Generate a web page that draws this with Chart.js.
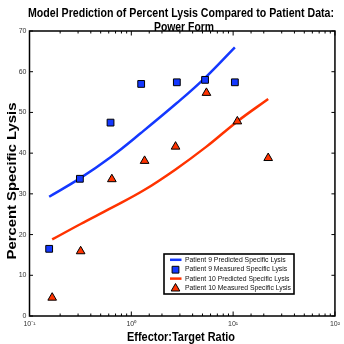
<!DOCTYPE html>
<html>
<head>
<meta charset="utf-8">
<script src="https://cdn.jsdelivr.net/npm/chart.js@4.4.0/dist/chart.umd.min.js"></script>
<style>
  html, body { margin: 0; padding: 0; background: #fff; }
</style>
</head>
<body>
<canvas id="lysisChart" width="344" height="344"></canvas>
<script>
// effector:target ratios
const ratio9 = [0.156, 0.3125, 0.625, 1.25, 2.8, 5.3, 10.4];
const measured9 = [16.5, 33.7, 47.5, 57.0, 57.4, 58.0, 57.4];
const predicted9 = [29.3, 33.8, 39.0, 45.0, 52.3, 58.5, 66.0];

const ratio10 = [0.167, 0.318, 0.644, 1.35, 2.72, 5.47, 11.0, 22.1];
const measured10 = [4.5, 15.9, 33.6, 38.1, 41.6, 54.8, 47.8, 38.8];
const predicted10 = [18.8, 22.6, 26.6, 31.0, 36.0, 41.6, 47.8, 53.3];

const seriesLabels = [
  "Patient 9 Predicted Specific Lysis",
  "Patient 9 Measured Specific Lysis",
  "Patient 10 Predicted Specific Lysis",
  "Patient 10 Measured Specific Lysis"
];
const xDecades = [0.1, 1, 10, 100];
const xDecadeLabels = ["10\u207B\u00B9", "10\u2070", "10\u00B9", "10\u00B2"];
const yTicks = [0, 10, 20, 30, 40, 50, 60, 70];

const blue = "#1438ff";
const red = "#ff3300";
const sans = '"Liberation Sans", Arial, sans-serif';

function pts(xs, ys) {
  return xs.map((x, i) => ({ x: x, y: ys[i] }));
}

// text squeezed to a given width (the original uses a narrow helvetica)
function fitText(ctx, text, x, y, width, font, rotate) {
  ctx.save();
  ctx.font = font;
  const w = ctx.measureText(text).width;
  ctx.translate(x, y);
  if (rotate) ctx.rotate(-Math.PI / 2);
  ctx.scale(width / w, 1);
  ctx.textAlign = "center";
  ctx.textBaseline = "alphabetic";
  ctx.fillStyle = "#000";
  ctx.fillText(text, 0, 0);
  ctx.restore();
}

function marker(ctx, style, x, y, fill) {
  ctx.save();
  ctx.fillStyle = fill;
  ctx.strokeStyle = "#000";
  ctx.lineWidth = 1;
  ctx.beginPath();
  if (style === "rect") {
    ctx.rect(x - 3.4, y - 3.4, 6.8, 6.8);
  } else {
    ctx.moveTo(x, y - 5);
    ctx.lineTo(x + 4.33, y + 2.5);
    ctx.lineTo(x - 4.33, y + 2.5);
    ctx.closePath();
  }
  ctx.fill();
  ctx.stroke();
  ctx.restore();
}

const framePlugin = {
  id: "frame",
  afterDraw(chart) {
    const { ctx, chartArea: a, scales: { x, y } } = chart;
    ctx.save();
    ctx.strokeStyle = "#000";
    ctx.lineWidth = 1;
    ctx.beginPath();
    x.ticks.forEach(t => {
      const px = x.getPixelForValue(t.value);
      const len = t.label ? 4.5 : 2.5;
      ctx.moveTo(px, a.bottom); ctx.lineTo(px, a.bottom - len);
      ctx.moveTo(px, a.top); ctx.lineTo(px, a.top + len);
    });
    y.ticks.forEach(t => {
      const py = y.getPixelForValue(t.value);
      ctx.moveTo(a.left, py); ctx.lineTo(a.left + 3.5, py);
      ctx.moveTo(a.right, py); ctx.lineTo(a.right - 3.5, py);
    });
    ctx.stroke();
    ctx.lineWidth = 1.5;
    ctx.strokeRect(a.left, a.top, a.right - a.left, a.bottom - a.top);

    // legend box
    const lx = 164, ly = 254, lw = 130, lh = 40;
    ctx.fillStyle = "#fff";
    ctx.fillRect(lx, ly, lw, lh);
    ctx.lineWidth = 1.6;
    ctx.strokeRect(lx, ly, lw, lh);
    const dsets = chart.data.datasets;
    ctx.font = "7.5px " + sans;
    const longest = Math.max(...dsets.map(d => ctx.measureText(d.label).width));
    const sx = 106 / longest;
    dsets.forEach((d, i) => {
      const ry = ly + 5.8 + i * 9.4;
      if (d.showLine) {
        ctx.strokeStyle = d.borderColor;
        ctx.lineWidth = 2.5;
        ctx.beginPath();
        ctx.moveTo(170, ry); ctx.lineTo(181.5, ry);
        ctx.stroke();
      } else {
        marker(ctx, d.pointStyle, 175.5, ry + 0.5, d.backgroundColor);
      }
      ctx.save();
      ctx.translate(185, ry);
      ctx.scale(sx, 1);
      ctx.fillStyle = "#111";
      ctx.textAlign = "left";
      ctx.textBaseline = "middle";
      ctx.fillText(d.label, 0, 0);
      ctx.restore();
    });
    ctx.restore();

    fitText(ctx, "Model Prediction of Percent Lysis Compared to Patient Data:", 181, 17, 306, "bold 12px " + sans);
    fitText(ctx, "Power Form", 184, 31, 60, "bold 12px " + sans);
    fitText(ctx, "Percent Specific Lysis", 15.5, 181, 157, "bold 12px " + sans, true);
    fitText(ctx, "Effector:Target Ratio", 181, 340.5, 108, "bold 12px " + sans);
  }
};

const ctx = document.getElementById("lysisChart").getContext("2d");
new Chart(ctx, {
  type: "scatter",
  data: {
    datasets: [
      {
        label: seriesLabels[0],
        data: pts(ratio9, predicted9),
        showLine: true,
        borderColor: blue,
        borderWidth: 2.5,
        pointRadius: 0,
        tension: 0.4,
        order: 1
      },
      {
        label: seriesLabels[1],
        data: pts(ratio9, measured9),
        pointStyle: "rect",
        pointRadius: 4.8,
        backgroundColor: blue,
        borderColor: "#000",
        borderWidth: 1,
        order: 0
      },
      {
        label: seriesLabels[2],
        data: pts(ratio10, predicted10),
        showLine: true,
        borderColor: red,
        borderWidth: 2.5,
        pointRadius: 0,
        tension: 0.4,
        order: 1
      },
      {
        label: seriesLabels[3],
        data: pts(ratio10, measured10),
        pointStyle: "triangle",
        pointRadius: 5,
        backgroundColor: red,
        borderColor: "#000",
        borderWidth: 1,
        order: 0
      }
    ]
  },
  options: {
    responsive: false,
    animation: false,
    layout: { padding: { left: 0, top: 31, right: 8, bottom: 0 } },
    plugins: {
      legend: { display: false },
      tooltip: { enabled: false }
    },
    scales: {
      x: {
        type: "logarithmic",
        min: 0.1,
        max: 100,
        grid: { display: false, drawTicks: false },
        border: { display: false },
        ticks: {
          autoSkip: false,
          maxRotation: 0,
          minRotation: 0,
          padding: 4,
          color: "#333",
          font: { family: sans, size: 7 },
          callback: function (v) {
            const i = xDecades.findIndex(d => Math.abs(d - v) < d * 1e-6);
            return i >= 0 ? xDecadeLabels[i] : "";
          }
        },
        afterFit: function (s) { s.height = 28; }
      },
      y: {
        min: 0,
        max: 70,
        grid: { display: false, drawTicks: false },
        border: { display: false },
        afterBuildTicks: function (s) { s.ticks = yTicks.map(v => ({ value: v })); },
        ticks: {
          padding: 3,
          color: "#333",
          font: { family: sans, size: 7 }
        },
        afterFit: function (s) { s.width = 29.5; }
      }
    }
  },
  plugins: [framePlugin]
});
</script>
</body>
</html>
